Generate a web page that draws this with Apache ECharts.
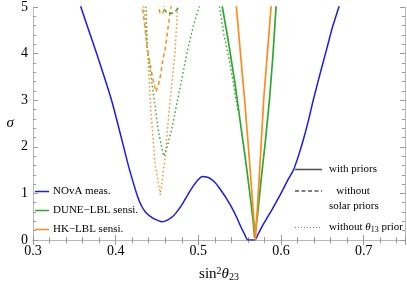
<!DOCTYPE html>
<html><head><meta charset="utf-8">
<script src="https://cdn.jsdelivr.net/npm/echarts@6/dist/echarts.min.js"></script>
<style>html,body{margin:0;padding:0;background:#fff}#c{width:407px;height:282px}</style>
</head><body><div id="c"></div>
<script>
// x: sin^2(theta23), y: sigma
const novaMeas = [[0.355,5.25],[0.358,5.0],[0.377,4.0],[0.395,3.0],[0.4075,2.15],[0.4136,1.72],[0.418,1.43],[0.4253,1.0],[0.431,0.74],[0.437,0.58],[0.445,0.47],[0.451,0.42],[0.456,0.39],[0.462,0.42],[0.470,0.52],[0.476,0.65],[0.481,0.78],[0.4875,0.98],[0.494,1.16],[0.500,1.30],[0.505,1.36],[0.510,1.35],[0.515,1.31],[0.521,1.22],[0.526,1.10],[0.533,0.92],[0.540,0.71],[0.546,0.50],[0.551,0.30],[0.556,0.12],[0.560,0.0],[0.568,0.0],[0.573,0.15],[0.578,0.32],[0.584,0.5],[0.590,0.68],[0.596,0.87],[0.602,1.07],[0.608,1.28],[0.615,1.5],[0.621,1.8],[0.627,2.15],[0.633,2.55],[0.639,3.0],[0.647,3.55],[0.655,4.08],[0.662,4.55],[0.670,5.0],[0.673,5.2]];
const duneWith = [[0.527,5.2],[0.529,5.0],[0.536,4.3],[0.544,3.4],[0.551,2.5],[0.558,1.6],[0.563,0.9],[0.566,0.45],[0.568,0.05],[0.572,0.6],[0.576,1.3],[0.581,2.1],[0.586,3.0],[0.590,3.9],[0.594,5.0],[0.595,5.2]];
const hkWith = [[0.545,5.2],[0.546,5.0],[0.551,4.0],[0.556,3.0],[0.561,1.9],[0.5655,0.85],[0.569,0.0],[0.572,0.85],[0.5755,1.9],[0.579,3.0],[0.5835,4.0],[0.588,5.0],[0.589,5.2]];
const duneNoSolar = [[0.456,5.1],[0.459,4.95],[0.462,4.87],[0.467,4.86],[0.472,4.9],[0.476,4.98],[0.478,5.1]];
const hkNoSolar = [[0.432,5.1],[0.4325,5.0],[0.4385,4.08],[0.4445,3.5],[0.4487,3.18],[0.4518,3.33],[0.4547,3.58],[0.4567,3.83],[0.4597,4.08],[0.4668,5.0],[0.4675,5.1]];
const hkNoSolarB = [[0.4512,5.1],[0.4535,4.88],[0.457,4.85],[0.460,5.1]];
const duneNo13 = [[0.4358,5.1],[0.4366,5.0],[0.4384,4.08],[0.4435,3.43],[0.4474,2.9],[0.4514,2.36],[0.4555,2.0],[0.4583,1.8],[0.462,1.98],[0.4676,2.36],[0.4737,2.9],[0.4797,3.43],[0.487,4.08],[0.494,4.6],[0.501,5.0],[0.503,5.1]];
const duneNo13B = [[0.5245,5.1],[0.5255,5.0],[0.531,4.4],[0.537,3.9],[0.543,3.3],[0.548,2.75]];
const hkNo13 = [[0.4332,5.1],[0.434,5.0],[0.4385,4.08],[0.4425,2.79],[0.4475,1.65],[0.454,0.97],[0.4595,1.72],[0.4647,2.79],[0.472,4.08],[0.4749,5.0],[0.4755,5.1]];

const xLabels = ['0.3','0.4','0.5','0.6','0.7'];
const yLabels = ['0','1','2','3','4','5'];

const BLUE = '#1a1aee', GREEN = '#2ea82e', ORANGE = '#ff8c1a';
const FONT = 'Liberation Serif';
const frameColor = '#b8b8b8', tickColor = '#9a9a9a';

function axisX(pos, major, showLab) {
  return {
    type: 'value', position: pos, min: 0.3, max: 0.75, interval: major ? 0.1 : 0.02,
    axisLine: {show: major, lineStyle: {color: frameColor, width: 1}},
    axisTick: {show: true, inside: true, length: major ? 5 : 3, lineStyle: {color: tickColor, width: 1}},
    axisLabel: {show: showLab, showMaxLabel: false, color: '#000', fontFamily: FONT, fontSize: 14, margin: 4,
      formatter: v => { const i = Math.round((v - 0.3) / 0.1); return (Math.abs(v - (0.3 + i*0.1)) < 1e-6 && i < xLabels.length) ? xLabels[i] : ''; }},
    splitLine: {show: false}
  };
}
function axisY(pos, major, showLab) {
  return {
    type: 'value', position: pos, min: 0, max: 5, interval: major ? 1 : 0.2,
    axisLine: {show: major, lineStyle: {color: frameColor, width: 1}},
    axisTick: {show: true, inside: true, length: major ? 5 : 3, lineStyle: {color: tickColor, width: 1}},
    axisLabel: {show: showLab, color: '#000', fontFamily: FONT, fontSize: 14, margin: 5,
      formatter: v => { const i = Math.round(v); return Math.abs(v - i) < 1e-6 ? yLabels[i] : ''; }},
    splitLine: {show: false}
  };
}

const xa = [axisX('bottom', true, true), axisX('bottom', false, false), axisX('top', true, false), axisX('top', false, false)];
xa[0].name = '{n|sin}{s|2}{t|θ}{b|23}';
xa[0].nameLocation = 'middle';
xa[0].nameGap = 26;
xa[0].nameTextStyle = {rich: {
  n: {fontFamily: FONT, fontSize: 15, color: '#000'},
  s: {fontFamily: FONT, fontSize: 10, color: '#000', verticalAlign: 'top', lineHeight: 10, padding: [0,0,6,0]},
  t: {fontFamily: FONT, fontSize: 15, fontStyle: 'italic', color: '#000'},
  b: {fontFamily: FONT, fontSize: 10, color: '#000', verticalAlign: 'bottom', padding: [6,0,0,0]}
}};
const ya = [axisY('left', true, true), axisY('left', false, false), axisY('right', true, false), axisY('right', false, false)];
ya[0].name = 'σ';
ya[0].nameLocation = 'middle';
ya[0].nameGap = 19;
ya[0].nameRotate = 0;
ya[0].nameTextStyle = {fontFamily: FONT, fontSize: 15, fontStyle: 'italic', color: '#000'};

function ser(data, color, width, dash, z, sm) {
  return {type: 'line', data: data, xAxisIndex: 0, yAxisIndex: 0, showSymbol: false, symbol: 'none',
    smooth: sm || false, clip: true, z: z, silent: true,
    lineStyle: {color: color, width: width, type: dash || 'solid', cap: 'butt'}};
}
const DOT = [1.5, 2.5], DASH = [4, 3];

const series = [
  ser(hkNo13, ORANGE, 1.4, DOT, 2),
  ser(duneNo13, GREEN, 1.4, DOT, 2),
  ser(duneNo13B, GREEN, 1.4, DOT, 2),
  ser(hkNoSolar, ORANGE, 1.5, DASH, 3),
  ser(hkNoSolarB, ORANGE, 1.5, DASH, 3),
  ser(duneNoSolar, GREEN, 1.5, DASH, 3),
  ser(novaMeas, BLUE, 1.5, null, 4, 0.25),
  ser(duneWith, GREEN, 1.7, null, 5),
  ser(hkWith, ORANGE, 1.7, null, 6)
];

const txt = (x, y, s, align) => ({type: 'text', x: x, y: y, style: {text: s, fontFamily: FONT, fontSize: 11, fill: '#000', align: align || 'left', verticalAlign: 'middle'}});
const seg = (x1, x2, y, c, dash, w) => ({type: 'line', shape: {x1: x1, y1: y, x2: x2, y2: y}, style: {stroke: c, lineWidth: w || 1.5, lineDash: dash || null}});

const graphic = [
  seg(35, 49, 191.5, BLUE), txt(53, 191.5, 'NOvA meas.'),
  seg(35, 49, 210.5, GREEN), txt(53, 210.5, 'DUNE\u2212LBL sensi.'),
  seg(35, 49, 229.5, ORANGE), txt(53, 229.5, 'HK\u2212LBL sensi.'),
  seg(295, 322, 169.5, '#555', null, 1.6), txt(329, 169.5, 'with priors'),
  seg(295, 322, 191, '#555', [4, 2.5], 1.3), txt(353, 191, 'without', 'center'),
  txt(329, 206, 'solar priors'),
  seg(295, 322, 227.5, '#777', [1, 2], 1),
  {type: 'text', x: 329, y: 227.5, style: {text: '{a|without }{t|θ}{b|13}{a| prior}', fontFamily: FONT, fontSize: 11, fill: '#000', verticalAlign: 'middle',
    rich: {a: {fontFamily: FONT, fontSize: 11, fill: '#000'}, t: {fontFamily: FONT, fontSize: 11, fontStyle: 'italic', fill: '#000'}, b: {fontFamily: FONT, fontSize: 8, fill: '#000', verticalAlign: 'bottom', padding: [5,0,0,0]}}}}
];

const chart = echarts.init(document.getElementById('c'), null, {renderer: 'canvas'});
chart.setOption({
  animation: false,
  backgroundColor: '#fff',
  grid: {left: 33, right: 2, top: 7, bottom: 42, containLabel: false, outerBoundsMode: 'none'},
  xAxis: xa, yAxis: ya,
  series: series,
  graphic: graphic
});
</script></body></html>
